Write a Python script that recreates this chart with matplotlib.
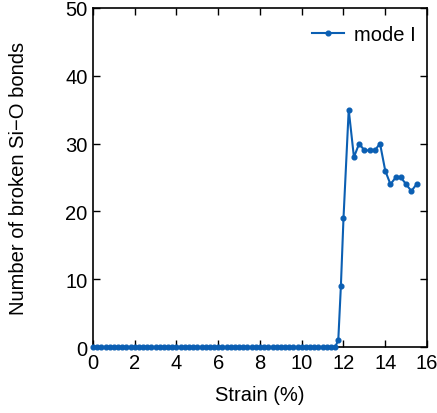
import matplotlib
matplotlib.use("Agg")
import matplotlib.pyplot as plt

plt.rcParams['font.family'] = ['Liberation Sans', 'DejaVu Sans']

# Strain (%) and number of broken Si-O bonds
strain_zero = [round(i * 0.2, 2) for i in range(59)]  # 0 .. 11.6, no bonds broken
strain_rise = [11.75, 11.875, 12.0, 12.25, 12.5, 12.75, 13.0, 13.25, 13.5,
               13.75, 14.0, 14.25, 14.5, 14.75, 15.0, 15.25, 15.5]
bonds_rise = [1, 9, 19, 35, 28, 30, 29, 29, 29, 30, 26, 24, 25, 25, 24, 23, 24]

strain = strain_zero + strain_rise
bonds = [0] * len(strain_zero) + bonds_rise

x_ticks = [0, 2, 4, 6, 8, 10, 12, 14, 16]
y_ticks = [0, 10, 20, 30, 40, 50]

fig = plt.figure(figsize=(4.37, 4.14), dpi=100)
ax = fig.add_axes([0.2128, 0.1594, 0.7643, 0.8189])

color = '#0b5fb3'
ax.plot(strain, bonds, '-o', color=color, lw=1.5, ms=3.4, label='mode I',
        clip_on=False, zorder=3)

fs = 14.5
ax.set_xlim(0, 16)
ax.set_ylim(0, 50)
ax.set_xticks(x_ticks)
ax.set_yticks(y_ticks)
ax.tick_params(direction='in', length=5, width=1.0, labelsize=fs,
               top=True, right=True, pad=4)
for s in ax.spines.values():
    s.set_linewidth(1.2)

ax.set_xlabel('Strain (%)', fontsize=fs, labelpad=10)
ax.set_ylabel('Number of broken Si\u2212O bonds', fontsize=fs, labelpad=27)

ax.legend(loc='upper right', bbox_to_anchor=(1.0, 0.982), frameon=False,
          fontsize=fs, handlelength=1.6, handletextpad=0.5, borderaxespad=0.15)

fig.savefig('out.png', dpi=100)
